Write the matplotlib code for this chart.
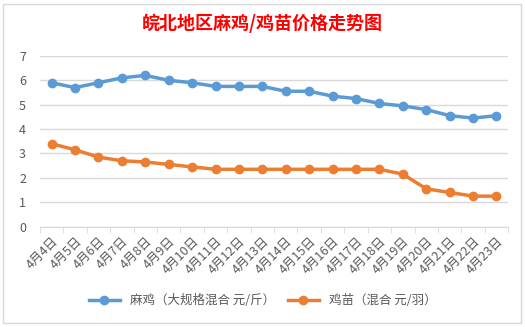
import numpy as np
import matplotlib.pyplot as plt
from matplotlib.patches import Rectangle

plt.rcParams['font.family'] = ['Noto Sans CJK SC', 'DejaVu Sans']

# Data
dates = ['4月4日', '4月5日', '4月6日', '4月7日', '4月8日', '4月9日', '4月10日',
         '4月11日', '4月12日', '4月13日', '4月14日', '4月15日', '4月16日', '4月17日',
         '4月18日', '4月19日', '4月20日', '4月21日', '4月22日', '4月23日']
mj_price = [5.9, 5.7, 5.9, 6.1, 6.2, 6.0, 5.9, 5.75, 5.75, 5.75,
            5.55, 5.55, 5.35, 5.25, 5.05, 4.95, 4.8, 4.55, 4.45, 4.55]
jm_price = [3.4, 3.15, 2.85, 2.7, 2.65, 2.55, 2.45, 2.35, 2.35, 2.35,
            2.35, 2.35, 2.35, 2.35, 2.35, 2.15, 1.55, 1.4, 1.25, 1.25]
mj_label = '麻鸡（大规格混合 元/斤）'
jm_label = '鸡苗（混合 元/羽）'
title = '皖北地区麻鸡/鸡苗价格走势图'

fig = plt.figure(figsize=(5.25, 3.27), dpi=100)
fig.patches.append(Rectangle((0.006, 0.012), 0.986, 0.976, transform=fig.transFigure,
                             fill=False, edgecolor='#d9d9d9', linewidth=1))
ax = fig.add_axes([0.076, 0.307, 0.892, 0.522])

x = np.arange(len(dates))
ax.plot(x, mj_price, color='#5b9bd5', linewidth=2.5, marker='o', markersize=6, label=mj_label)
ax.plot(x, jm_price, color='#ed7d31', linewidth=2.5, marker='o', markersize=6, label=jm_label)

ax.set_xlim(-0.5, len(dates) - 0.5)
ax.set_ylim(0, 7)
ax.set_yticks(range(0, 8))
ax.yaxis.grid(True, color='#d9d9d9', linewidth=1)
ax.set_axisbelow(True)
for s in ['top', 'right', 'left']:
    ax.spines[s].set_visible(False)
ax.spines['bottom'].set_color('#d9d9d9')

ax.set_xticks(x)
ax.set_xticklabels(dates, rotation=45, ha='right', rotation_mode='anchor', fontsize=9, color='#595959')
ax.set_xticks(np.arange(-0.5, len(dates)), minor=True)
ax.tick_params(axis='x', which='major', length=0, pad=6)
ax.tick_params(axis='x', which='minor', length=4, color='#d9d9d9')
ax.tick_params(axis='y', length=0, labelsize=9, labelcolor='#595959', pad=10)

fig.text(0.5, 0.93, title, ha='center', va='center', fontsize=13, color='red', fontweight='bold')
fig.legend(loc='center', bbox_to_anchor=(0.5, 0.08), ncol=2, frameon=False, fontsize=9,
           labelcolor='#595959', handlelength=2.5, columnspacing=1.0)

fig.savefig('out.png', dpi=100)
